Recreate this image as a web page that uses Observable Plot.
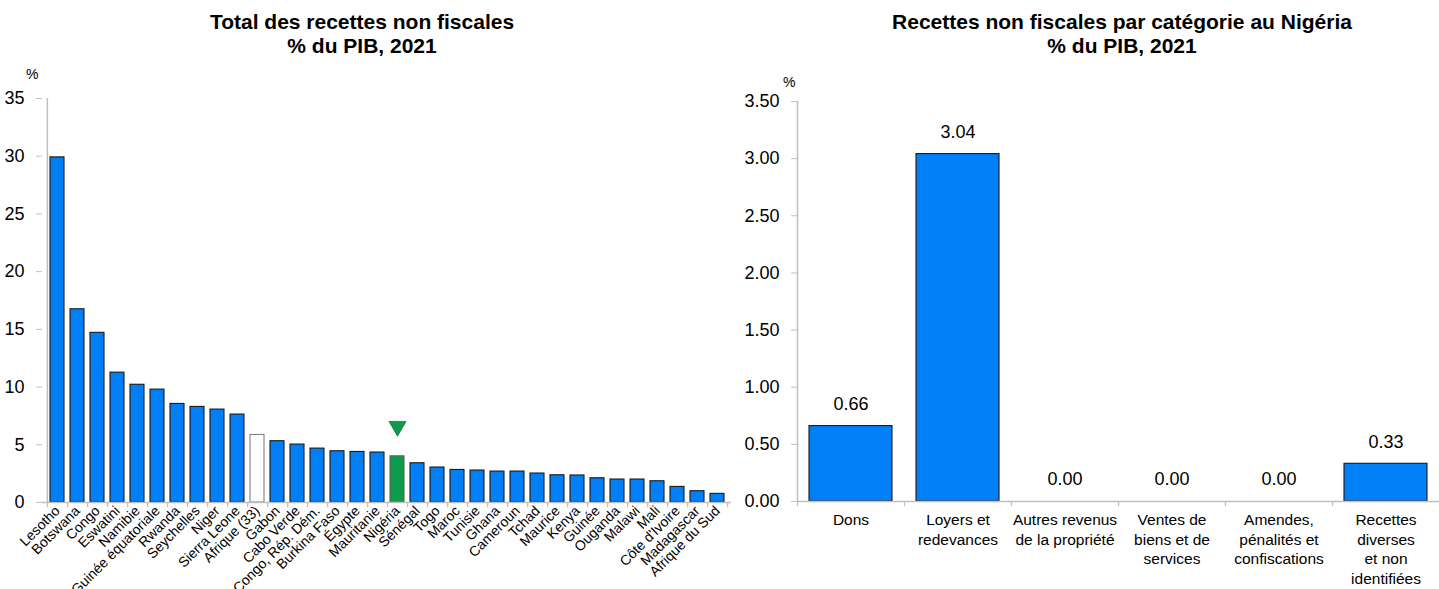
<!DOCTYPE html>
<html>
<head>
<meta charset="utf-8">
<script src="https://cdn.jsdelivr.net/npm/d3@7"></script>
<script src="https://cdn.jsdelivr.net/npm/@observablehq/plot@0.6"></script>
<style>
  html, body { margin: 0; padding: 0; background: #fff; }
  #wrap { position: relative; width: 1439px; height: 589px; overflow: hidden; font-family: "Liberation Sans", Arial, sans-serif; }
  .title { position: absolute; top: 10px; text-align: center; font-weight: bold; font-size: 21px; line-height: 24px; color: #000; z-index: 2; }
  .unit { position: absolute; font-size: 14px; z-index: 2; color: #000; }
  .panel { position: absolute; top: 60px; z-index: 1; }
</style>
</head>
<body>
<div id="wrap">
  <div class="title" style="left:0;width:724px;">Total des recettes non fiscales<br>% du PIB, 2021</div>
  <div class="title" style="left:796px;width:652px;">Recettes non fiscales par catégorie au Nigéria<br>% du PIB, 2021</div>
  <div class="unit" style="left:26px;top:66px;">%</div>
  <div class="unit" style="left:783px;top:74px;">%</div>
  <div class="panel" id="left" style="left:0;"></div>
  <div class="panel" id="right" style="left:740px;"></div>
</div>
<script>
const countries = ["Lesotho","Botswana","Congo","Eswatini","Namibie","Guinée équatoriale","Rwanda","Seychelles","Niger","Sierra Leone","Afrique (33)","Gabon","Cabo Verde","Congo, Rép. Dém.","Burkina Faso","Égypte","Mauritanie","Nigéria","Sénégal","Togo","Maroc","Tunisie","Ghana","Cameroun","Tchad","Maurice","Kenya","Guinée","Ouganda","Malawi","Mali","Côte d'Ivoire","Madagascar","Afrique du Sud"];
const totals = [29.9,16.74,14.7,11.25,10.2,9.78,8.54,8.28,8.05,7.62,5.85,5.31,5.02,4.67,4.44,4.38,4.33,4.0,3.4,3.03,2.82,2.77,2.68,2.68,2.51,2.36,2.34,2.1,1.99,1.99,1.84,1.35,0.98,0.75];
const leftTicks = [0,5,10,15,20,25,30,35];

const categories = ["Dons","Loyers et\nredevances","Autres revenus\nde la propriété","Ventes de\nbiens et de\nservices","Amendes,\npénalités et\nconfiscations","Recettes\ndiverses\net non\nidentifiées"];
const nigeriaValues = [0.66,3.04,0.00,0.00,0.00,0.33];
const rightTicks = [0,0.5,1,1.5,2,2.5,3,3.5];

const BLUE = "#007ff6", GREEN = "#0f9a4c", AXIS = "#bfbfbf";
const font = "'Liberation Sans', Arial, sans-serif";

// Left chart
const leftData = countries.map((c, i) => ({country: c, value: totals[i]}));
const LW = 740, LML = 42, LMR = 9;
const lstep = (LW - LML - LMR) / countries.length;
const fillFor = d => d.country === "Nigéria" ? GREEN : d.country === "Afrique (33)" ? "#ffffff" : BLUE;
const strokeFor = d => d.country === "Nigéria" ? "#4d6b57" : d.country === "Afrique (33)" ? "#808080" : "#1a1a1a";

const left = Plot.plot({
  width: LW, height: 529,
  marginLeft: LML, marginRight: LMR, marginTop: 38, marginBottom: 87,
  style: {fontFamily: font, background: "transparent", overflow: "visible"},
  x: {domain: countries, paddingInner: 0.3, paddingOuter: 0.15, label: null},
  y: {domain: [0, 35], label: null},
  marks: [
    Plot.barY(leftData, {x: "country", y: "value", fill: fillFor, stroke: strokeFor, strokeWidth: 1.1}),
    Plot.ruleY([0], {stroke: AXIS, strokeWidth: 1.5}),
    Plot.ruleX([0], {x: () => countries[0], dx: -lstep/2, y1: 0, y2: 35, stroke: AXIS, strokeWidth: 1.5}),
    Plot.ruleX(countries, {x: d => d, dx: lstep/2, y1: 0, y2: -0.45, stroke: AXIS, strokeWidth: 1.2}),
    Plot.ruleX([countries[0]], {x: d => d, dx: -lstep/2, y1: 0, y2: -0.45, stroke: AXIS, strokeWidth: 1.2}),
    Plot.dot(leftData.filter(d => d.country === "Nigéria"), {x: "country", y: "value", symbol: "triangle", rotate: 180, r: 6.3, dy: -30, fill: GREEN, stroke: "#0b7a3b", strokeWidth: 0.8}),
    Plot.axisY({ticks: leftTicks, tickSize: 6, tickPadding: 12, stroke: AXIS, fontSize: 18, fill: "#000", label: null, tickFormat: d => String(d)}),
    Plot.axisX({tickRotate: -45, tickSize: 0, tickPadding: 6, dx: 0, fontSize: 14, fill: "#000", label: null})
  ]
});
document.getElementById("left").appendChild(left);

// Right chart
const rightData = categories.map((c, i) => ({cat: c, value: nigeriaValues[i]}));
const RW = 699, RML = 57, RMR = 0;
const rstep = (RW - RML - RMR) / categories.length;
const right = Plot.plot({
  width: RW, height: 529,
  marginLeft: RML, marginRight: RMR, marginTop: 41, marginBottom: 88,
  style: {fontFamily: font, background: "transparent", overflow: "visible"},
  x: {domain: categories, paddingInner: 0.226, paddingOuter: 0.113, label: null},
  y: {domain: [0, 3.5], label: null},
  marks: [
    Plot.barY(rightData, {x: "cat", y: "value", fill: BLUE, stroke: "#1a1a1a", strokeWidth: 1.1}),
    Plot.ruleY([0], {stroke: AXIS, strokeWidth: 1.5}),
    Plot.ruleX([0], {x: () => categories[0], dx: -rstep/2, y1: 0, y2: 3.5, stroke: AXIS, strokeWidth: 1.5}),
    Plot.ruleX(categories, {x: d => d, dx: rstep/2, y1: 0, y2: -0.045, stroke: AXIS, strokeWidth: 1.2}),
    Plot.ruleX([categories[0]], {x: d => d, dx: -rstep/2, y1: 0, y2: -0.045, stroke: AXIS, strokeWidth: 1.2}),
    Plot.text(rightData, {x: "cat", y: "value", text: d => d.value.toFixed(2), dy: -22, fontSize: 18, fill: "#000"}),
    Plot.axisY({ticks: rightTicks, tickSize: 6, tickPadding: 12, stroke: AXIS, fontSize: 18, fill: "#000", label: null, tickFormat: d => d.toFixed(2)}),
    Plot.axisX({tickSize: 0, tickPadding: 10, fontSize: 15.5, lineHeight: 1.26, fill: "#000", label: null})
  ]
});
document.getElementById("right").appendChild(right);
</script>
</body>
</html>
